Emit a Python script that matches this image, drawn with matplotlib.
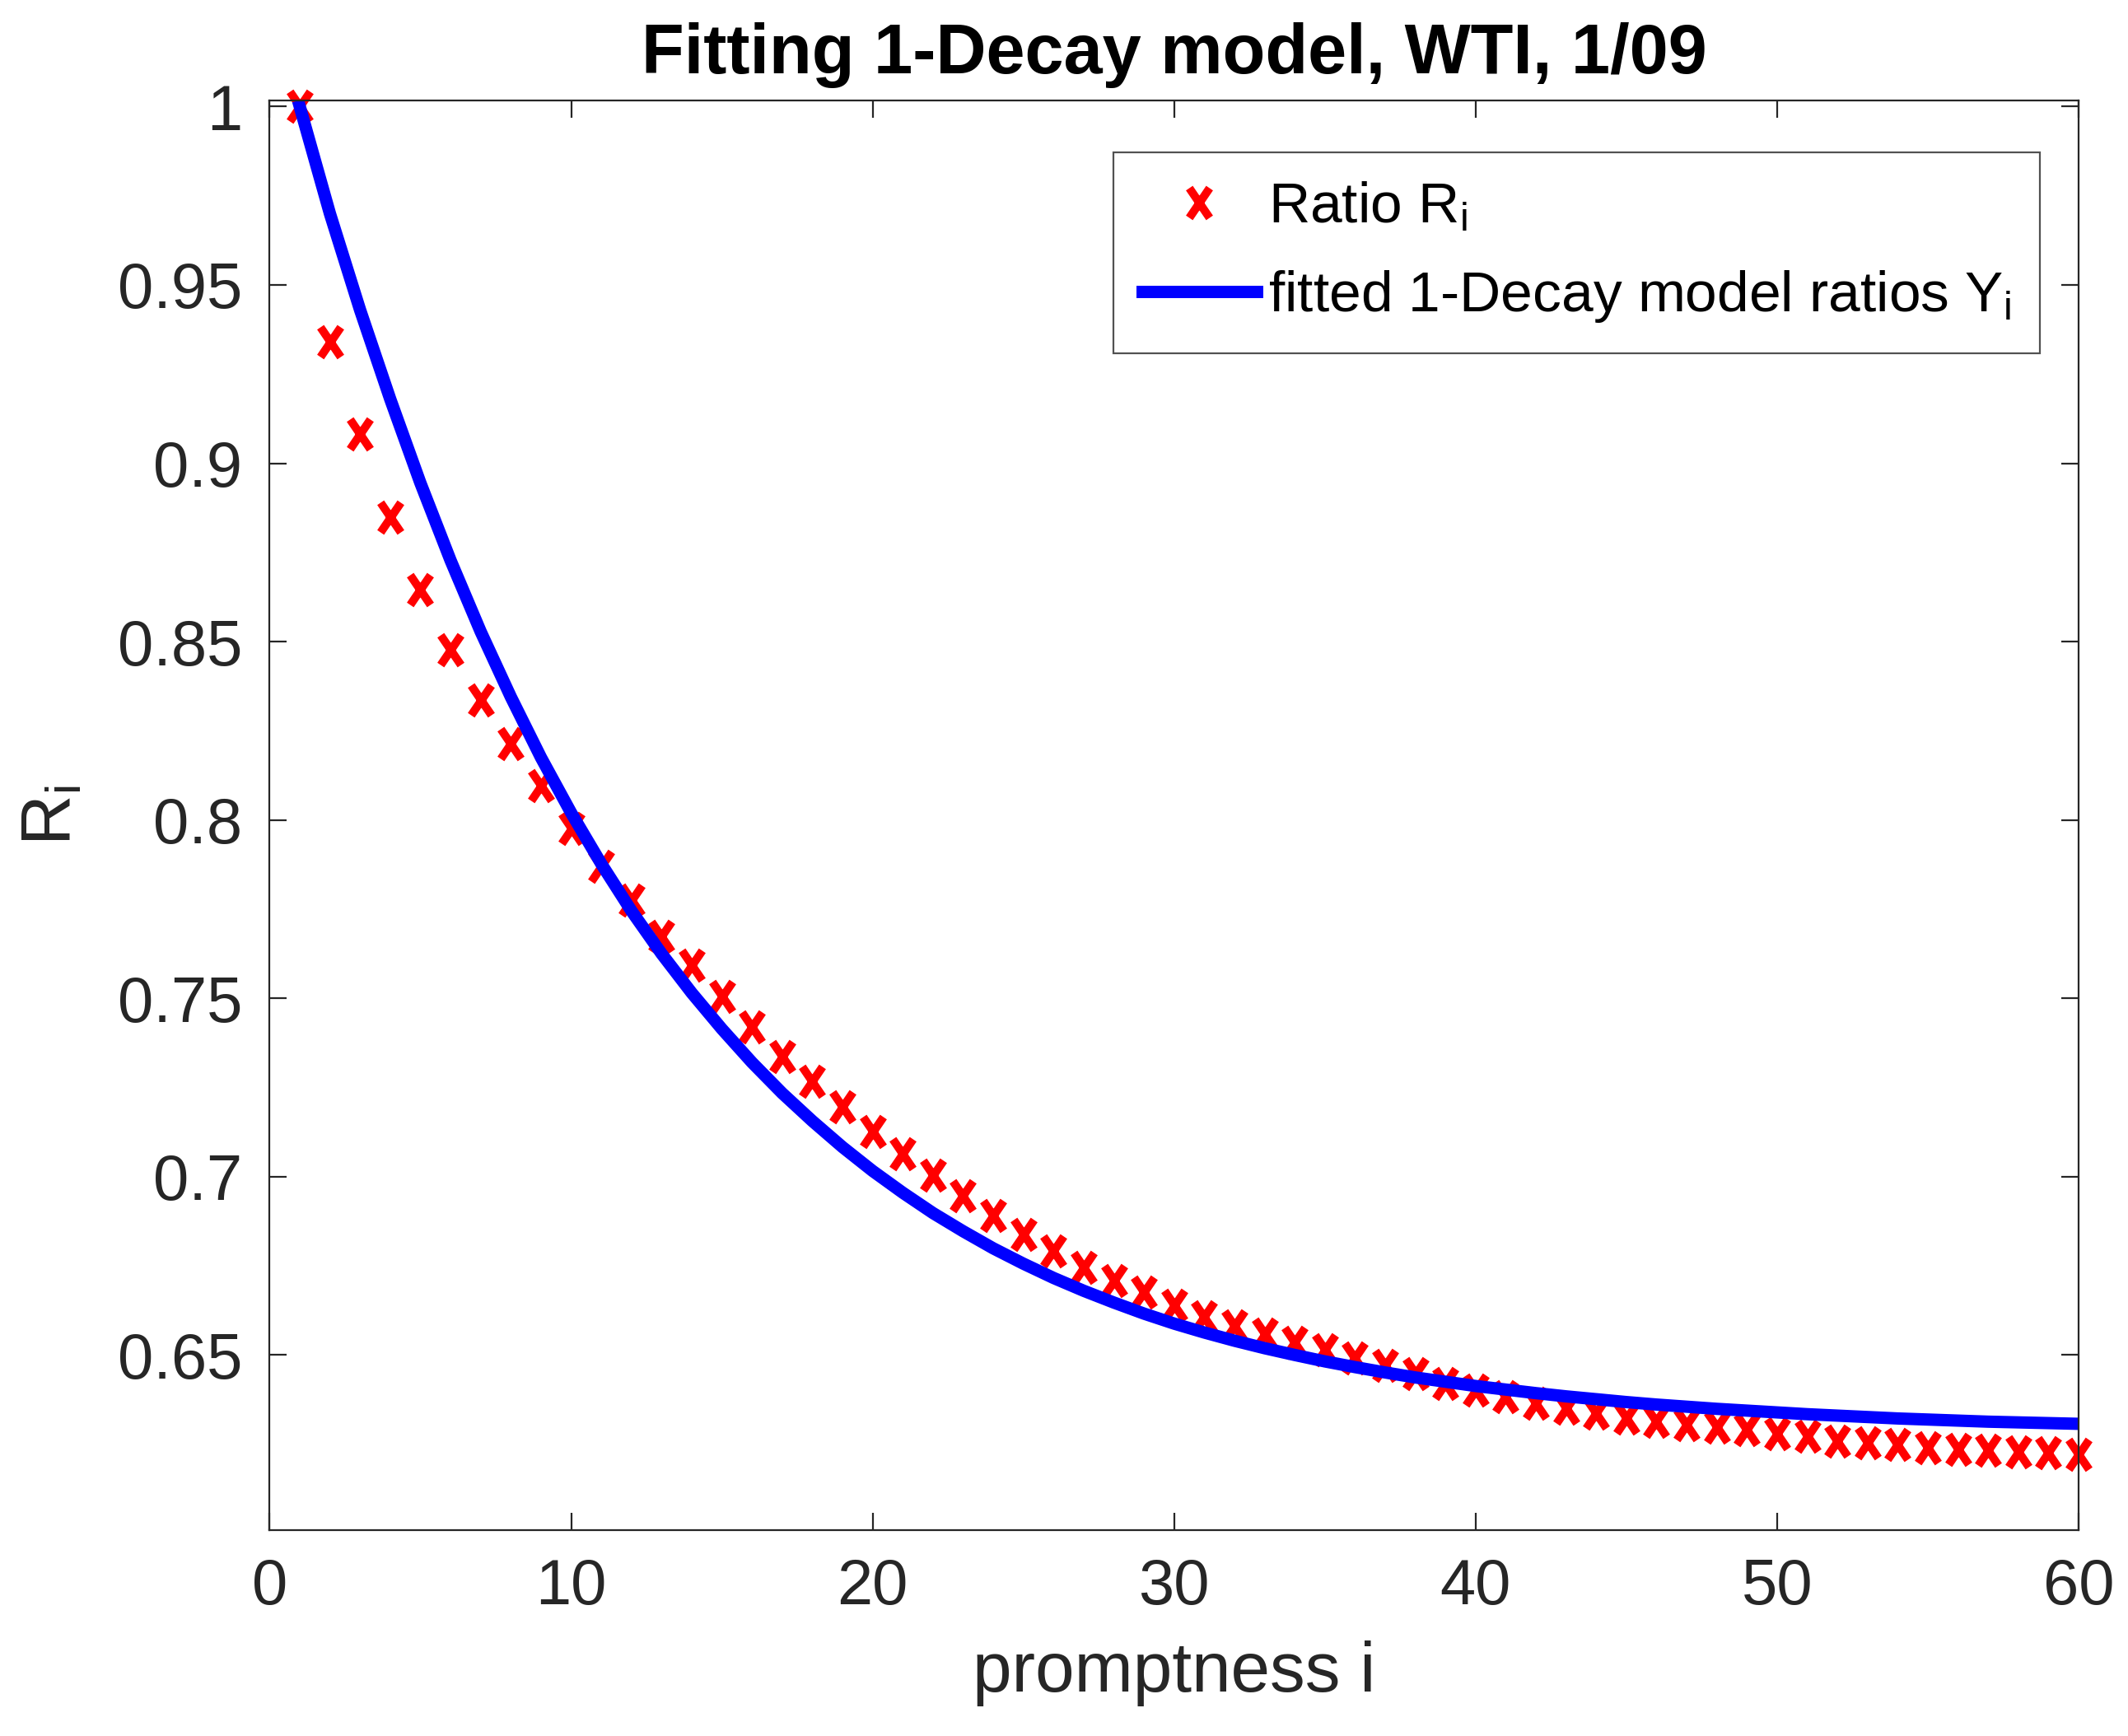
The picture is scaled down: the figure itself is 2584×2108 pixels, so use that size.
import numpy as np
import matplotlib
matplotlib.use('Agg')
import matplotlib.pyplot as plt
from matplotlib.path import Path

plt.rcParams['font.family'] = ['Liberation Sans', 'DejaVu Sans']
plt.rcParams['mathtext.default'] = 'regular'

promptness = list(range(1, 61))
ratio_R = [1.0000, 0.9341, 0.9082, 0.8849, 0.8645, 0.8478, 0.8336, 0.8215, 0.8096, 0.7977,
           0.7870, 0.7775, 0.7674, 0.7592, 0.7506, 0.7419, 0.7336, 0.7268, 0.7196, 0.7126,
           0.7063, 0.7003, 0.6946, 0.6891, 0.6839, 0.6792, 0.6746, 0.6709, 0.6677, 0.6640,
           0.6608, 0.6582, 0.6559, 0.6536, 0.6515, 0.6492, 0.6471, 0.6448, 0.6421, 0.6402,
           0.6382, 0.6365, 0.6350, 0.6336, 0.6323, 0.6313, 0.6305, 0.6298, 0.6290, 0.6278,
           0.6273, 0.6259, 0.6253, 0.6248, 0.6240, 0.6236, 0.6232, 0.6229, 0.6225, 0.6221]

# fitted 1-Decay model ratios Y_i
fitted_Y = [1.0000, 0.9700, 0.9430, 0.9180, 0.8945, 0.8728, 0.8528, 0.8345, 0.8175, 0.8020,
            0.7877, 0.7745, 0.7625, 0.7515, 0.7414, 0.7320, 0.7234, 0.7156, 0.7083, 0.7016,
            0.6955, 0.6898, 0.6847, 0.6799, 0.6756, 0.6716, 0.6680, 0.6647, 0.6616, 0.6588,
            0.6563, 0.6540, 0.6519, 0.6500, 0.6482, 0.6466, 0.6451, 0.6437, 0.6425, 0.6413,
            0.6403, 0.6393, 0.6384, 0.6376, 0.6368, 0.6361, 0.6355, 0.6349, 0.6344, 0.6339,
            0.6334, 0.6330, 0.6326, 0.6322, 0.6319, 0.6316, 0.6313, 0.6311, 0.6309, 0.6307]

xticks = [0, 10, 20, 30, 40, 50, 60]
yticks = [0.65, 0.7, 0.75, 0.8, 0.85, 0.9, 0.95, 1.0]
ytick_labels = ['0.65', '0.7', '0.75', '0.8', '0.85', '0.9', '0.95', '1']

dark = '#262626'

# tall "x" marker like in the picture
xmark = Path([(-0.34, -0.5), (0.34, 0.5), (-0.34, 0.5), (0.34, -0.5)],
             [Path.MOVETO, Path.LINETO, Path.MOVETO, Path.LINETO])

fig = plt.figure(figsize=(12.92, 10.54), dpi=200)
ax = fig.add_axes([0.1267, 0.1186, 0.8501, 0.8235])

ax.plot(promptness, ratio_R, linestyle='none', marker=xmark, markersize=13,
        markeredgewidth=3.6, color='#ff0000', clip_on=False, label='Ratio R$_i$')
ax.plot(promptness, fitted_Y, '-', color='#0000ff', linewidth=5.4,
        label='fitted 1-Decay model ratios Y$_i$')

ax.set_xlim(0, 60)
ax.set_ylim(0.6009, 1.0017)
ax.set_xticks(xticks)
ax.set_yticks(yticks)
ax.set_yticklabels(ytick_labels)

for s in ax.spines.values():
    s.set_color(dark)
    s.set_linewidth(0.8)
ax.tick_params(direction='in', length=7.5, width=0.8, color=dark, labelcolor=dark,
               labelsize=28, top=True, right=True, pad=12)

ax.set_title('Fitting 1-Decay model, WTI, 1/09', fontsize=30.5, fontweight='bold', pad=12)
ax.set_xlabel('promptness i', fontsize=30.8, color=dark, labelpad=10)
ax.set_ylabel('R$_i$', fontsize=30.8, color=dark, labelpad=14)

leg = ax.legend(loc='upper left', bbox_to_anchor=(1352 / 2584, 1 - 185 / 2108),
                bbox_transform=fig.transFigure, fontsize=25.0, frameon=True,
                fancybox=False, edgecolor=dark, handlelength=2.0, handletextpad=0.2,
                borderpad=0.5, labelspacing=0.6, borderaxespad=0)
leg.get_frame().set_linewidth(0.8)

fig.savefig('out.png', dpi=200, facecolor='white')
